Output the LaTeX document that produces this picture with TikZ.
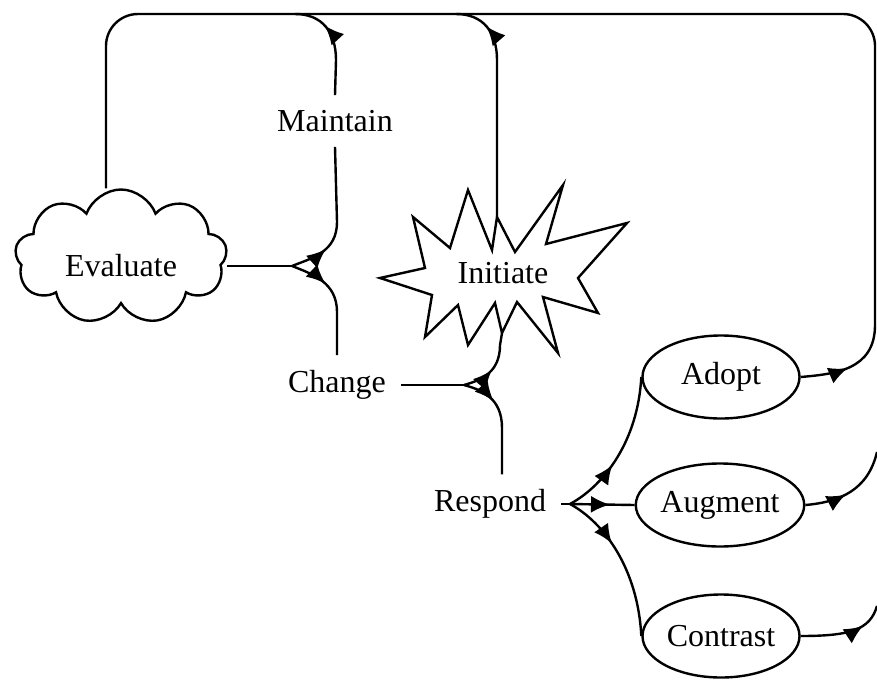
\documentclass[tikz,border=0pt]{standalone}
\usepackage{fontspec}
\setmainfont{Liberation Serif}
\usetikzlibrary{arrows.meta,shapes.geometric,shapes.symbols,decorations.markings}

\begin{document}
\begin{tikzpicture}[
        x=1pt, y=-1pt,
        line width=2.4pt,
        every node/.style={font=\fontsize{32}{38}\selectfont},
        lbl/.style={inner sep=14pt},
        oval/.style={ellipse, draw, minimum width=157pt, minimum height=83pt, inner sep=0pt},
        arrowat/.style={postaction={decorate}, decoration={markings,
            mark=at position #1 with {\arrow{Latex[length=19pt,width=17pt]}}}}
      ]
      \useasboundingbox (0,0) rectangle (877,682);
      % shapes and labels
      \node[cloud, draw, cloud puffs=9, cloud puff arc=140, cloud ignores aspect,
            minimum width=212pt, minimum height=135pt] (eval) at (121,257) {};
      \node (evaltxt) at (121,266) {Evaluate};
      \node[lbl] (maintain) at (335,121) {Maintain};
      \node[lbl] (change) at (337,385) {Change};
      \node[lbl] (respond) at (490,504) {Respond};
      \draw (380,278) -- (425,268) -- (413,217) -- (450,248) -- (468,190) -- (492,250)
        -- (497,217) -- (515,252) -- (563,185) -- (546,244) -- (627,223) -- (578,278)
        -- (598,313) -- (543,297) -- (558,353) -- (517,302) -- (502,333) -- (495,303)
        -- (468,345) -- (458,305) -- (425,337) -- (432,295) -- cycle;
      \node (init) at (503,273) {Initiate};
      \node[oval] (adopt) at (721,377) {Adopt};
      \node[oval] (augment) at (720,505) {Augment};
      \node[oval] (contrast) at (721,636) {Contrast};
      % corners and junctions
      \coordinate (tl) at (106,14);
      \coordinate (tr) at (875,14);
      \coordinate (ej) at (292,266);
      \coordinate (cj) at (464,385);
      \coordinate (rj) at (570,504);
      \coordinate (it) at (497,217);
      \coordinate (ib) at (502,333);
      \coordinate (augend) at (877,452);
      \coordinate (conend) at (877,606);
      % feedback loop
      \draw[arrowat=48pt] (adopt.east) .. controls (835,374) and (875,370) .. (875,325)
        [rounded corners=32pt] -- (tr) -- (tl) -- (tl |- eval.north);
      \draw[arrowat=72pt] (maintain.north) -- (336,60) .. controls (336,32) and (322,14) .. (295,14);
      \draw[arrowat=193pt] (it) -- (497,60) .. controls (497,32) and (483,14) .. (456,14);
      % evaluate
      \draw (evaltxt -| eval.east) -- (ej);
      \draw[arrowat=38pt] (ej) .. controls (312,258) and (337,252) .. (337,222) -- (maintain.south);
      \draw[arrowat=38pt] (ej) .. controls (312,274) and (337,282) .. (337,312) -- (change.north);
      % change
      \draw (change.east) -- (cj);
      \draw[arrowat=32pt] (cj) .. controls (482,380) and (500,372) .. (500,345) -- (ib);
      \draw[arrowat=34pt] (cj) .. controls (482,390) and (502,398) .. (502,428) -- (respond.north -| ib);
      % respond
      \draw (respond.east) -- (rj);
      \draw[arrowat=58pt] (rj) .. controls (605,485) and (638,440) .. (adopt.west);
      \draw[arrowat=40pt] (rj) -- (augment.west);
      \draw[arrowat=58pt] (rj) .. controls (605,523) and (638,570) .. (contrast.west);
      \draw[arrowat=42pt] (augment.east) .. controls (840,502) and (868,490) .. (augend);
      \draw[arrowat=64pt] (contrast.east) .. controls (850,636) and (870,630) .. (conend);
\end{tikzpicture}
\end{document}
